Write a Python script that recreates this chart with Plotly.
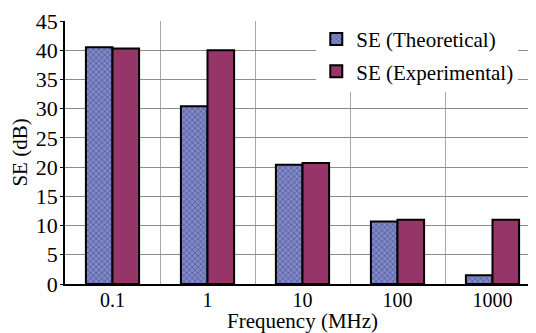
import plotly.graph_objects as go

categories = ["0.1", "1", "10", "100", "1000"]
se_theoretical = [40.5, 30.4, 20.4, 10.7, 1.5]
se_experimental = [40.3, 40.0, 20.7, 11.0, 11.0]
y_ticks = [0, 5, 10, 15, 20, 25, 30, 35, 40, 45]

font_family = "Liberation Serif, Times New Roman, serif"

fig = go.Figure()
fig.add_trace(go.Bar(
    x=categories, y=se_theoretical, name="SE (Theoretical)", legendgroup="a",
    marker=dict(color="#7f88c8",
                line=dict(color="black", width=2),
                pattern=dict(shape="x", fgcolor="#2b2f66", bgcolor="#8088c8", size=4, solidity=0.35)),
))
fig.add_trace(go.Bar(
    x=categories, y=se_experimental, name="SE (Experimental)", legendgroup="b",
    marker=dict(color="#963668", line=dict(color="black", width=2)),
))

# page body has an 8px offset; margins compensate so the plot lands like the reference
fig.update_layout(
    width=536, height=333,
    margin=dict(l=57, r=4, t=13, b=57, autoexpand=False),
    paper_bgcolor="white", plot_bgcolor="white",
    barmode="group", bargap=0.44, bargroupgap=0,
    font=dict(family=font_family, size=20, color="black"),
    legend=dict(x=0.529, y=1.008, xanchor="left", yanchor="top",
                bgcolor="white", font=dict(size=21), tracegroupgap=2),
    annotations=[dict(text="Frequency (MHz)", xref="paper", yref="paper",
                      x=0.5, y=-0.1407, xanchor="center", yanchor="middle",
                      showarrow=False, font=dict(size=21))],
)
fig.update_xaxes(
    type="category", range=[-0.5, 4.5],
    tickson="boundaries", showgrid=True, gridcolor="#a8a8a8", gridwidth=1,
    showline=True, linecolor="black", linewidth=1.5,
    ticks="", tickfont=dict(size=20), ticklabelstandoff=-3,
    automargin=False,
)
fig.update_yaxes(
    range=[0, 45], tickvals=y_ticks,
    showgrid=True, gridcolor="#8c8c8c", gridwidth=1,
    showline=True, linecolor="black", linewidth=1.5,
    ticks="outside", ticklen=3, tickcolor="black",
    tickfont=dict(size=22), ticklabelstandoff=-2,
    title=dict(text="SE (dB)", font=dict(size=21), standoff=2),
    zeroline=False, automargin=False,
)
fig.write_html("out.html")
